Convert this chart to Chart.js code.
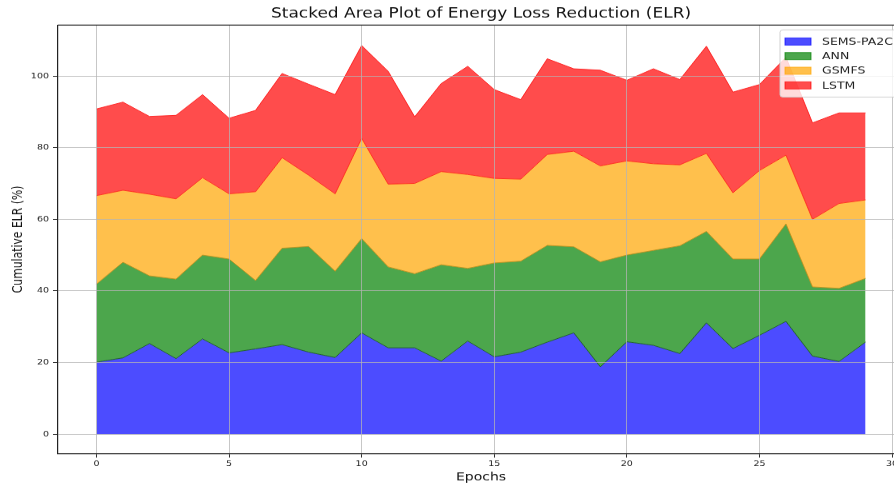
<!DOCTYPE html>
<html>
<head>
<meta charset="utf-8">
<script src="https://cdn.jsdelivr.net/npm/chart.js@4.4.1/dist/chart.umd.min.js"></script>
<style>
  html, body { margin: 0; padding: 0; width: 894px; height: 486px; overflow: hidden; background: #fff; }
  #plot { position: absolute; left: 0; top: 0; transform: scaleY(0.7993); transform-origin: 0 0; }
</style>
</head>
<body>
<canvas id="plot" width="962" height="608"></canvas>
<script>
// Epoch index on the x axis
const epochs = [0,1,2,3,4,5,6,7,8,9,10,11,12,13,14,15,16,17,18,19,20,21,22,23,24,25,26,27,28,29];

// Energy loss reduction (%) per method, stacked bottom to top
const semsPa2c = [20.1,21.3,25.3,21.1,26.6,22.7,23.8,25.0,22.9,21.4,28.3,24.1,24.1,20.4,26.0,21.6,22.9,25.7,28.3,18.8,25.8,24.8,22.5,31.1,23.9,27.6,31.5,21.8,20.3,25.7];
const ann      = [21.8,26.7,18.9,22.2,23.4,26.2,19.1,26.9,29.5,24.1,26.3,22.6,20.7,26.9,20.3,26.2,25.4,27.0,24.0,29.3,24.2,26.5,30.1,25.5,25.0,21.3,27.2,19.3,20.4,17.8];
const gsmfs    = [24.7,20.1,22.8,22.4,21.6,18.2,24.8,25.3,19.9,21.6,28.0,23.1,25.2,26.0,26.2,23.6,22.9,25.4,26.7,26.8,26.3,24.2,22.6,21.8,18.5,24.7,19.2,18.9,23.7,21.9];
const lstm     = [24.2,24.6,21.7,23.3,23.2,21.1,22.7,23.5,25.4,27.7,25.9,31.5,18.6,24.6,30.2,24.8,22.2,26.7,23.0,26.7,22.5,26.5,23.8,29.9,28.1,24.0,27.3,26.9,25.3,24.3];

const seriesNames = ['SEMS-PA2C', 'ANN', 'GSMFS', 'LSTM'];

// Tick values
const xTicks = [0, 5, 10, 15, 20, 25, 30];
const yTicks = [0, 20, 40, 60, 80, 100];

const FONT = "'DejaVu Sans', 'Noto Sans', sans-serif";
const fills   = ['rgba(0,0,255,0.7)', 'rgba(0,128,0,0.7)', 'rgba(255,165,0,0.7)', 'rgba(255,0,0,0.7)'];
const strokes = ['rgba(20,90,20,0.85)', 'rgba(190,140,20,0.85)', 'rgba(255,30,20,0.85)', 'rgba(255,20,20,0.85)'];

function toPoints(values) {
  return epochs.map((e, i) => ({ x: e, y: values[i] }));
}

const seriesValues = [semsPa2c, ann, gsmfs, lstm];
const datasets = seriesValues.map((vals, i) => ({
  label: seriesNames[i],
  data: toPoints(vals),
  backgroundColor: fills[i],
  borderColor: strokes[i],
  borderWidth: 1,
  fill: i === 0 ? 'origin' : '-1',
  pointRadius: 0,
  pointHoverRadius: 0,
  tension: 0
}));

// Top and right spines of the axes frame
const frame = {
  id: 'frame',
  afterDraw(chart) {
    const { ctx, chartArea: a } = chart;
    ctx.save();
    ctx.strokeStyle = '#222';
    ctx.lineWidth = 1.2;
    ctx.beginPath();
    ctx.moveTo(a.left, a.top);
    ctx.lineTo(a.right, a.top);
    ctx.lineTo(a.right, a.bottom);
    ctx.stroke();
    ctx.restore();
  }
};

// Legend box drawn inside the upper right corner of the plot
const insideLegend = {
  id: 'insideLegend',
  afterDraw(chart) {
    const { ctx, chartArea: a } = chart;
    const w = 117, h = 84;
    const right = a.right - 7, left = right - w, top = a.top + 6;
    ctx.save();
    ctx.beginPath();
    ctx.roundRect(left, top, w, h, 3);
    ctx.fillStyle = 'rgba(255,255,255,0.8)';
    ctx.fill();
    ctx.strokeStyle = 'rgba(204,204,204,0.9)';
    ctx.lineWidth = 1;
    ctx.stroke();
    ctx.font = '12.5px ' + FONT;
    ctx.textBaseline = 'middle';
    ctx.textAlign = 'left';
    chart.data.datasets.forEach((ds, i) => {
      const cy = top + 14.5 + i * 18.3;
      ctx.fillStyle = ds.backgroundColor;
      ctx.fillRect(left + 5, cy - 4.5, 26, 9);
      ctx.strokeStyle = ds.backgroundColor;
      ctx.strokeRect(left + 5, cy - 4.5, 26, 9);
      ctx.fillStyle = '#222';
      ctx.fillText(ds.label, left + 42, cy + 0.5);
    });
    ctx.restore();
  }
};

const gridColor = 'rgba(180,180,180,0.75)';

new Chart(document.getElementById('plot'), {
  type: 'line',
  data: { datasets },
  plugins: [frame, insideLegend],
  options: {
    responsive: false,
    animation: false,
    devicePixelRatio: 1,
    layout: { padding: 0 },
    plugins: {
      legend: { display: false },
      tooltip: { enabled: false },
      title: {
        display: true,
        text: 'Stacked Area Plot of Energy Loss Reduction (ELR)',
        color: '#111',
        font: { family: FONT, size: 17, weight: 'normal' },
        padding: { top: 7, bottom: 4 }
      }
    },
    scales: {
      x: {
        type: 'linear',
        min: -1.45,
        max: 30.45,
        afterBuildTicks(scale) { scale.ticks = xTicks.map(v => ({ value: v })); },
        afterFit(scale) { scale.height = 40.5; },
        ticks: {
          color: '#222',
          font: { family: FONT, size: 9.5 },
          padding: 2,
          maxRotation: 0,
          autoSkip: false
        },
        grid: { color: gridColor, lineWidth: 1, z: 1, tickColor: '#333', tickLength: 5 },
        border: { color: '#222', width: 1.2, z: 1 },
        title: {
          display: true,
          text: 'Epochs',
          color: '#111',
          font: { family: FONT, size: 14 },
          padding: { top: 0, bottom: 2 }
        }
      },
      y: {
        type: 'linear',
        stacked: true,
        min: -5.43,
        max: 114.2,
        afterBuildTicks(scale) { scale.ticks = yTicks.map(v => ({ value: v })); },
        afterFit(scale) { scale.width = 58; },
        ticks: {
          color: '#222',
          font: { family: FONT, size: 9.5 },
          padding: 4
        },
        grid: { color: gridColor, lineWidth: 1, z: 1, tickColor: '#333', tickLength: 5 },
        border: { color: '#222', width: 1.2, z: 1 },
        title: {
          display: true,
          text: 'Cumulative ELR (%)',
          color: '#111',
          font: { family: FONT, size: 13.5 },
          padding: { top: 10, bottom: 0 }
        }
      },
      // Empty margin on the right so the plot is centred under the title
      yRight: {
        type: 'linear',
        position: 'right',
        min: 0,
        max: 1,
        afterFit(scale) { scale.width = 58; },
        ticks: { display: false },
        grid: { display: false },
        border: { display: false }
      }
    }
  }
});
</script>
</body>
</html>
